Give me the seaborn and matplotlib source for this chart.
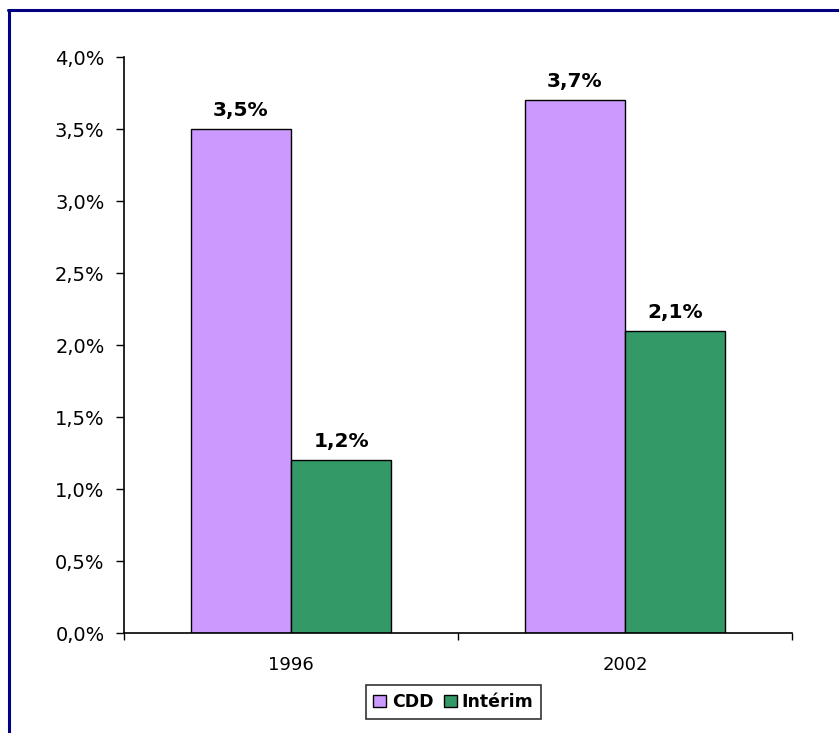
import matplotlib
matplotlib.use("Agg")
import matplotlib.pyplot as plt
from matplotlib.lines import Line2D
from matplotlib.patches import Patch
from matplotlib.ticker import FuncFormatter, FixedLocator
import seaborn as sns
import pandas as pd

# Part des contrats temporaires (en %)
years = ["1996", "2002"]
series = ["CDD", "Intérim"]
cdd = [3.5, 3.7]
interim = [1.2, 2.1]
colors = {"CDD": "#CC99FF", "Intérim": "#339966"}
y_ticks = [0.0, 0.5, 1.0, 1.5, 2.0, 2.5, 3.0, 3.5, 4.0]

df = pd.DataFrame({
    "Année": years * 2,
    "Type": [series[0]] * len(years) + [series[1]] * len(years),
    "Part": cdd + interim,
})

sns.set_style("white")
plt.rcParams["font.family"] = ["DejaVu Sans"]
plt.rcParams["text.color"] = "black"

fig = plt.figure(figsize=(8.39, 7.33), dpi=100)
ax = fig.add_axes([0.1478, 0.1364, 0.944 - 0.1478, 0.9222 - 0.1364])

sns.barplot(data=df, x="Année", y="Part", hue="Type", order=years,
            hue_order=series, palette=colors, width=0.6, edgecolor="black",
            linewidth=1.0, saturation=1.0, ax=ax, legend=False, errorbar=None)

for container in ax.containers:
    labels = [f"{v:.1f}%".replace(".", ",") for v in container.datavalues]
    ax.bar_label(container, labels=labels, padding=6.5, fontsize=14.5,
                 fontweight="bold", color="black")

ax.set_xlim(-0.5, 1.5)
ax.set_ylim(0, 4.0)
ax.set_yticks(y_ticks)
ax.yaxis.set_major_formatter(FuncFormatter(lambda v, p: f"{v:.1f}%".replace(".", ",")))
ax.tick_params(axis="y", direction="out", length=6, width=1, labelsize=14,
               colors="black", labelcolor="black", left=True, pad=8)
ax.tick_params(axis="x", which="major", length=0, labelsize=13,
               labelcolor="black", pad=16.5)
ax.xaxis.set_minor_locator(FixedLocator([-0.5, 0.5, 1.5]))
ax.tick_params(axis="x", which="minor", direction="out", length=5, width=1,
               color="black", bottom=True)
ax.set_xlabel("")
ax.set_ylabel("")
for side in ["top", "right"]:
    ax.spines[side].set_visible(False)
for side in ["left", "bottom"]:
    ax.spines[side].set_color("black")
    ax.spines[side].set_linewidth(1.2)

handles = [Patch(facecolor=colors[s], edgecolor="black", linewidth=1.0, label=s)
           for s in series]
leg = fig.legend(handles=handles, loc="center", bbox_to_anchor=(0.5405, 0.0423),
                 ncol=2, frameon=True, fancybox=False, handlelength=0.75,
                 handleheight=0.75, handletextpad=0.3, columnspacing=0.6,
                 borderpad=0.45, prop={"weight": "bold", "size": 12.5},
                 labelcolor="black")
leg.get_frame().set_edgecolor("black")
leg.get_frame().set_linewidth(1.2)

# Cadre du graphique (bords haut et gauche)
fig.add_artist(Line2D([8.5 / 839, 8.5 / 839], [0, 1 - 9.5 / 733],
                      transform=fig.transFigure, color="#000080", linewidth=2.2))
fig.add_artist(Line2D([7.5 / 839, 1], [1 - 9.5 / 733, 1 - 9.5 / 733],
                      transform=fig.transFigure, color="#000080", linewidth=2.2))

fig.savefig("out.png", dpi=100, facecolor="white")
